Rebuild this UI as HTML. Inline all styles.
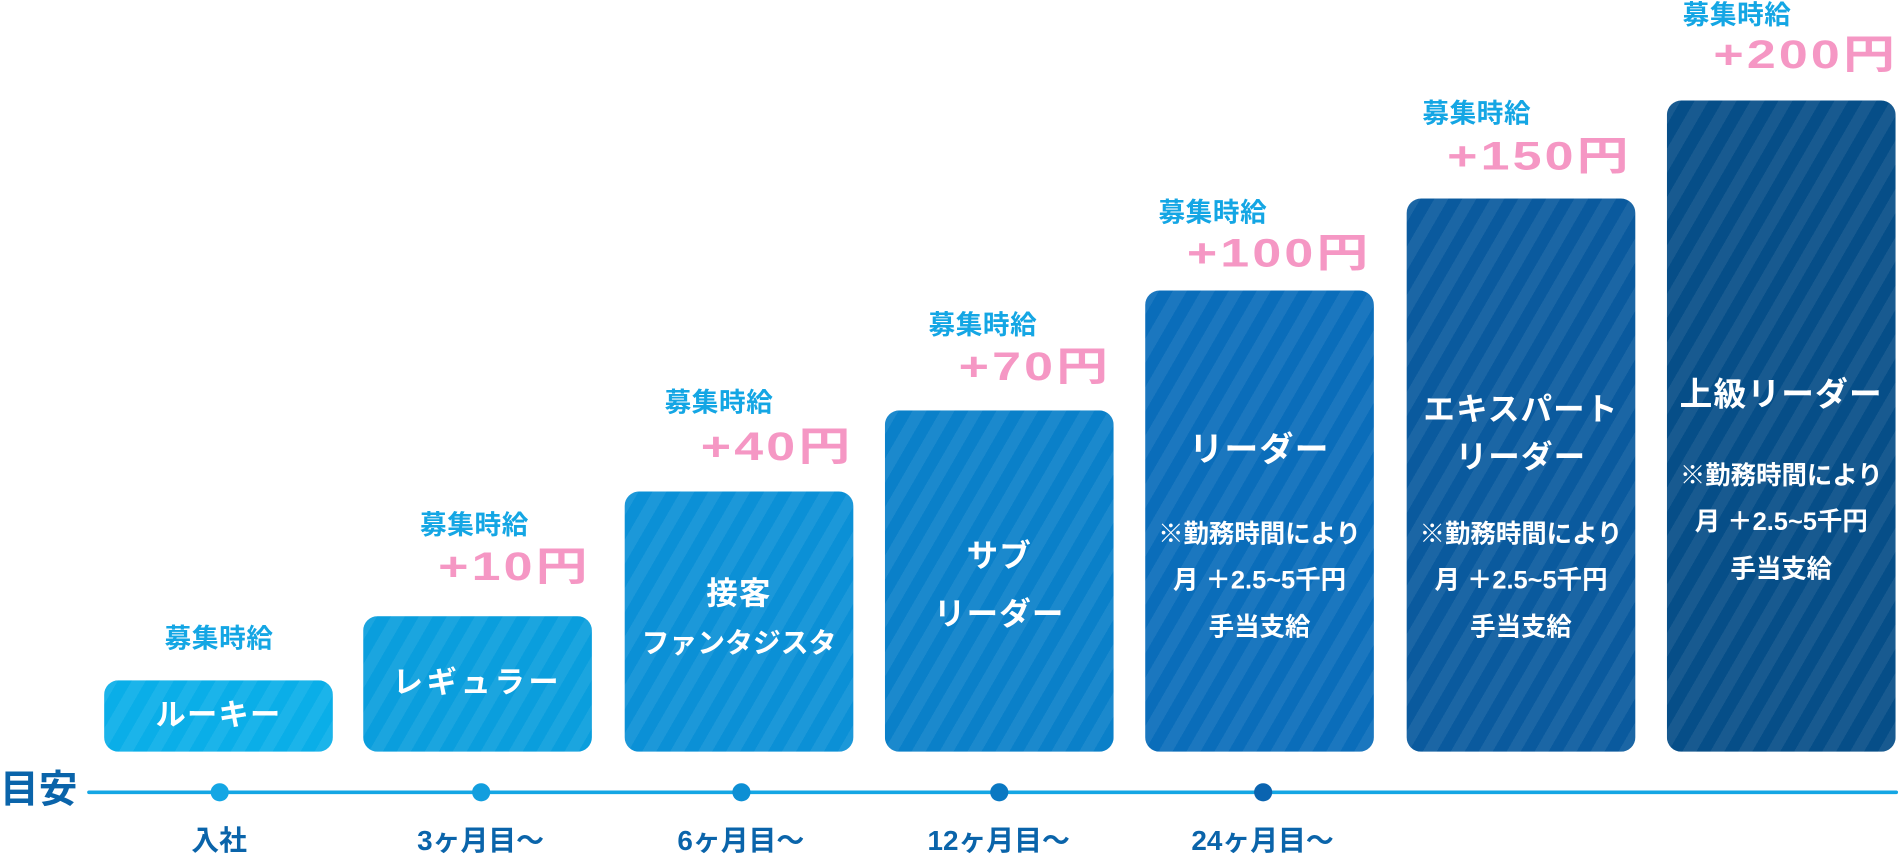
<!DOCTYPE html>
<html><head><meta charset="utf-8"><style>
html,body{margin:0;padding:0;background:#fff;overflow:hidden;width:1898px;height:860px}
#w{position:absolute;left:0;top:0;width:1568px;height:713px;transform:scale(1.2105);transform-origin:0 0;font-family:"Liberation Sans","Noto Sans CJK JP",sans-serif;font-weight:bold}
.b{position:absolute;width:189px;bottom:92px;border-radius:12px;color:#fff;text-align:center;
background-image:repeating-linear-gradient(120deg,rgba(255,255,255,0.07) 0 10px,rgba(255,255,255,0) 10px 20px)}
.t{position:absolute;left:0;width:100%;text-align:center;font-size:26px;line-height:1;letter-spacing:1px;white-space:nowrap}
.n{position:absolute;left:-5px;width:199px;text-align:center;font-size:21px;line-height:1;white-space:nowrap}
.k{position:absolute;color:#14a6e4;font-size:22px;line-height:1;letter-spacing:0.5px}
.p{position:absolute;color:#f597c4;font-size:33px;line-height:1;letter-spacing:2px;text-align:right;width:200px;transform:scaleX(1.3);transform-origin:right center}
.d{position:absolute;width:15px;height:15px;border-radius:50%;top:647px}
.l{position:absolute;width:160px;text-align:center;color:#0a64aa;font-size:23px;top:683px;line-height:1}
</style></head><body><div id="w">
<div class="b" style="left:86px;top:562px;background-color:#0aaee8"><div class="t" style="top:17px;font-size:25px">ルーキー</div></div>
<div class="b" style="left:300px;top:509px;background-color:#0a9edd"><div class="t" style="top:43px;font-size:25px;letter-spacing:3px">レギュラー</div></div>
<div class="b" style="left:516px;top:406px;background-color:#0b90d6"><div class="t" style="top:71px">接客</div><div class="n" style="top:114px;font-size:23px">ファンタジスタ</div></div>
<div class="b" style="left:731px;top:339px;background-color:#0a80c9"><div class="t" style="top:107px">サブ</div><div class="t" style="top:155px">リーダー</div></div>
<div class="b" style="left:946px;top:240px;background-color:#0a6dba"><div class="t" style="top:118px;font-size:28px">リーダー</div><div class="n" style="top:191px">※勤務時間により</div><div class="n" style="top:229px">月 ＋2.5~5千円</div><div class="n" style="top:268px">手当支給</div></div>
<div class="b" style="left:1162px;top:164px;background-color:#0a5a9e"><div class="t" style="top:161px">エキスパート</div><div class="t" style="top:200px">リーダー</div><div class="n" style="top:267px">※勤務時間により</div><div class="n" style="top:305px">月 ＋2.5~5千円</div><div class="n" style="top:344px">手当支給</div></div>
<div class="b" style="left:1377px;top:83px;background-color:#064e88"><div class="t" style="top:230px;font-size:27px">上級リーダー</div><div class="n" style="top:300px">※勤務時間により</div><div class="n" style="top:338px">月 ＋2.5~5千円</div><div class="n" style="top:377px">手当支給</div></div>

<div class="k" style="left:136px;top:517px">募集時給</div>
<div class="k" style="left:347px;top:423px">募集時給</div>
<div class="k" style="left:549px;top:322px">募集時給</div>
<div class="k" style="left:767px;top:258px">募集時給</div>
<div class="k" style="left:957px;top:165px">募集時給</div>
<div class="k" style="left:1175px;top:83px">募集時給</div>
<div class="k" style="left:1390px;top:2px">募集時給</div>
<div class="p" style="left:288px;top:451px">+10円</div>
<div class="p" style="left:505px;top:352px">+40円</div>
<div class="p" style="left:718px;top:286px">+70円</div>
<div class="p" style="left:933px;top:192px">+100円</div>
<div class="p" style="left:1148px;top:112px">+150円</div>
<div class="p" style="left:1368px;top:28px">+200円</div>

<div style="position:absolute;left:0;top:636px;font-size:32px;color:#0a64aa;line-height:1">目安</div>
<div style="position:absolute;left:72px;top:653px;width:1496px;height:3px;background:#14a6e4;border-radius:2px"></div>
<div class="d" style="left:174px;background:#14a6e4"></div>
<div class="d" style="left:390px;background:#129ede"></div>
<div class="d" style="left:605px;background:#0d8fd4"></div>
<div class="d" style="left:818px;background:#0a78c2"></div>
<div class="d" style="left:1036px;background:#0a64b0"></div>
<div class="l" style="left:101px">入社</div>
<div class="l" style="left:317px">3ヶ月目〜</div>
<div class="l" style="left:532px">6ヶ月目〜</div>
<div class="l" style="left:745px">12ヶ月目〜</div>
<div class="l" style="left:963px">24ヶ月目〜</div>
</div></body></html>
